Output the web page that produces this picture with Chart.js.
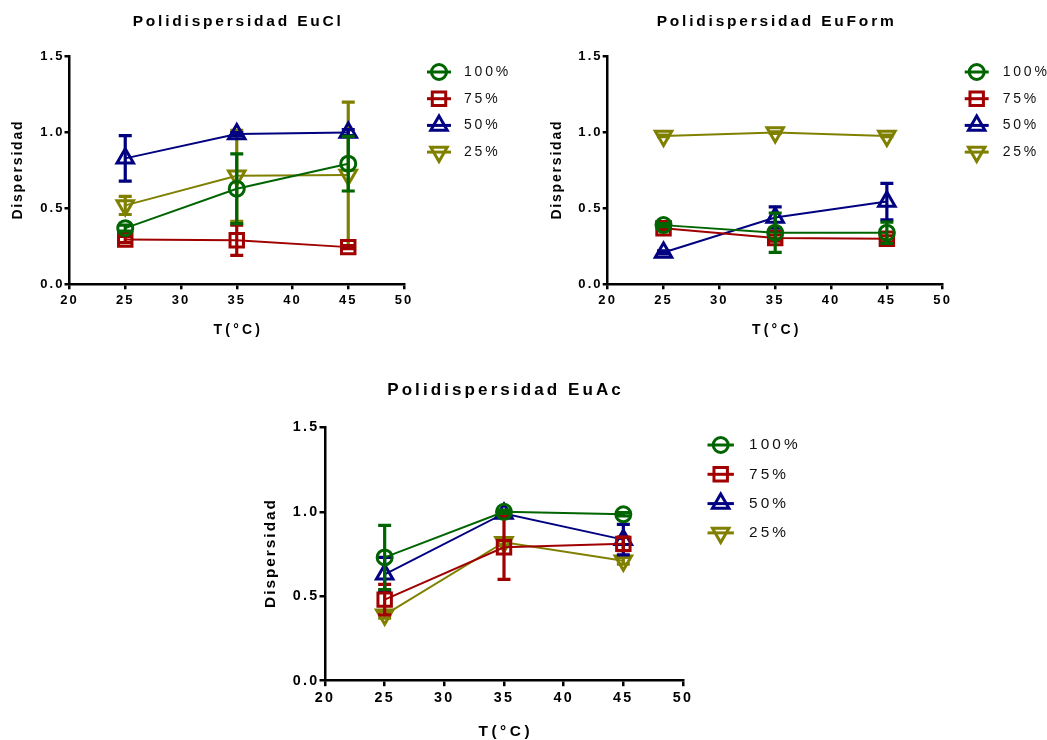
<!DOCTYPE html>
<html lang="es">
<head>
<meta charset="UTF-8">
<title>Polidispersidad</title>
<script src="https://cdn.jsdelivr.net/npm/chart.js@4.4.1/dist/chart.umd.min.js"></script>
<style>
  body { margin: 0; background: #fff; }
  #page { position: relative; width: 1047px; height: 740px; overflow: hidden; background: #fff; }
  #page canvas { position: absolute; }
</style>
</head>
<body>
<div id="page">
  <canvas id="chartEuCl" width="530" height="345" style="left:0;top:0"></canvas>
  <canvas id="chartEuForm" width="517" height="345" style="left:530px;top:0"></canvas>
  <canvas id="chartEuAc" width="580" height="370" style="left:240px;top:370px"></canvas>
</div>

<script>
// temperatures (°C) and series
const temps = [25, 35, 45];
const seriesLabels = ['100%', '75%', '50%', '25%'];
const xTickValues = [20, 25, 30, 35, 40, 45, 50];
const yTickValues = [0, 0.5, 1.0, 1.5];

// EuCl: mean and SD per series (rows follow seriesLabels)
const euClMeans = [
  [0.37, 0.63, 0.795],
  [0.295, 0.29, 0.245],
  [0.83, 0.99, 1.0],
  [0.52, 0.715, 0.72]
];
const euClSd = [
  [0.02, 0.23, 0.18],
  [0.02, 0.10, 0.01],
  [0.15, 0.01, 0.02],
  [0.06, 0.30, 0.48]
];

// EuForm
const euFormMeans = [
  [0.39, 0.34, 0.34],
  [0.37, 0.305, 0.30],
  [0.21, 0.44, 0.545],
  [0.978, 1.0, 0.978]
];
const euFormSd = [
  [0.01, 0.13, 0.07],
  [0.01, 0.02, 0.02],
  [0.01, 0.07, 0.12],
  [0.005, 0.005, 0.005]
];

// EuAc
const euAcMeans = [
  [0.73, 1.0, 0.985],
  [0.48, 0.79, 0.81],
  [0.63, 0.99, 0.835],
  [0.39, 0.82, 0.71]
];
const euAcSd = [
  [0.19, 0.01, 0.01],
  [0.09, 0.19, 0.04],
  [0.10, 0.01, 0.09],
  [0.02, 0.02, 0.02]
];

// look of each series
const seriesColors = ['#006400', '#a00000', '#000080', '#808000'];
const seriesMarkers = [
  { pointStyle: 'circle', radius: 7.5, rotation: 0 },
  { pointStyle: 'rect', radius: 9.5, rotation: 0 },
  { pointStyle: 'triangle', radius: 9.5, rotation: 0 },
  { pointStyle: 'triangle', radius: 9.5, rotation: 180 }
];

const FONT = "'Liberation Sans', Arial, sans-serif";

// draws text with letter spacing, centered on the visible glyphs when asked
function spacedText(ctx, text, x, y, spacing, align) {
  ctx.letterSpacing = spacing + 'px';
  ctx.textAlign = 'left';
  const w = ctx.measureText(text).width - spacing;
  ctx.fillText(text, align === 'center' ? x - w / 2 : x, y);
}

// SD bars, drawn just under each dataset's own line and markers
const errorBars = {
  id: 'errorBars',
  beforeDatasetDraw(chart, args) {
    const ds = chart.data.datasets[args.index];
    if (!ds.sd) return;
    const ctx = chart.ctx;
    const xs = chart.scales.x, ys = chart.scales.y;
    const cap = 6.5;
    ctx.save();
    ctx.strokeStyle = ds.borderColor;
    ctx.lineWidth = 3.2;
    ds.data.forEach((p, j) => {
      const e = ds.sd[j];
      const px = xs.getPixelForValue(p.x);
      const top = ys.getPixelForValue(p.y + e);
      const bot = ys.getPixelForValue(p.y - e);
      ctx.beginPath();
      ctx.moveTo(px, top); ctx.lineTo(px, bot);
      ctx.moveTo(px - cap, top); ctx.lineTo(px + cap, top);
      ctx.moveTo(px - cap, bot); ctx.lineTo(px + cap, bot);
      ctx.stroke();
    });
    ctx.restore();
  }
};

// panel title, axis titles and the legend at the right of the plot
const panelText = {
  id: 'panelText',
  beforeDraw(chart, args, opts) {
    chart.ctx.letterSpacing = opts.tickSpacing + 'px';
  },
  afterDraw(chart, args, opts) {
    const ctx = chart.ctx;
    const area = chart.chartArea;
    const s = opts.scale;
    const cx = (area.left + area.right) / 2;
    ctx.save();
    ctx.fillStyle = '#000';
    ctx.textBaseline = 'middle';

    ctx.font = `bold ${15.5 * s}px ${FONT}`;
    spacedText(ctx, opts.title, cx, opts.titleY, 2.8 * s, 'center');

    ctx.font = `bold ${14 * s}px ${FONT}`;
    spacedText(ctx, 'T(°C)', cx, opts.xTitleY, 3.2 * s, 'center');

    ctx.save();
    ctx.translate(opts.yTitleX, (area.top + area.bottom) / 2);
    ctx.rotate(-Math.PI / 2);
    spacedText(ctx, 'Dispersidad', 0, 0, 1.8 * s, 'center');
    ctx.restore();

    // legend
    const mx = area.right + opts.legendMarker;
    const tx = area.right + opts.legendText;
    chart.data.datasets.forEach((ds, i) => {
      const y = area.top + opts.legendTop + i * opts.legendStep;
      ctx.strokeStyle = ds.borderColor;
      ctx.fillStyle = 'rgba(0,0,0,0)';
      ctx.lineWidth = 3;
      ctx.beginPath();
      ctx.moveTo(mx - 12 * s, y); ctx.lineTo(mx + 12 * s, y);
      ctx.stroke();
      Chart.helpers.drawPoint(ctx, {
        pointStyle: seriesMarkers[i].pointStyle,
        rotation: seriesMarkers[i].rotation,
        radius: seriesMarkers[i].radius,
        borderWidth: 3
      }, mx, y);
      ctx.fillStyle = '#111';
      ctx.font = `${14 * s}px ${FONT}`;
      spacedText(ctx, ds.label, tx, y, 2.8 * s, 'left');
    });
    ctx.restore();
  }
};

function makePanel(id, means, sds, g) {
  const s = g.scale;
  const tickFont = { family: FONT, size: 13 * s, weight: 'bold' };
  const datasets = seriesLabels.map((label, i) => ({
    label: label,
    data: temps.map((t, j) => ({ x: t, y: means[i][j] })),
    sd: sds[i],
    showLine: true,
    borderColor: seriesColors[i],
    backgroundColor: 'rgba(0,0,0,0)',
    borderWidth: 2,
    pointStyle: seriesMarkers[i].pointStyle,
    pointRadius: seriesMarkers[i].radius,
    pointRotation: seriesMarkers[i].rotation,
    pointBorderWidth: 3,
    pointBackgroundColor: 'rgba(0,0,0,0)',
    pointBorderColor: seriesColors[i],
    clip: false
  }));

  return new Chart(document.getElementById(id), {
    type: 'scatter',
    data: { datasets },
    options: {
      responsive: false,
      animation: false,
      events: [],
      layout: { padding: { left: 0, top: g.top, right: g.right, bottom: 0 } },
      plugins: {
        legend: { display: false },
        tooltip: { enabled: false },
        panelText: {
          title: g.title, scale: s, tickSpacing: 2.1 * s,
          titleY: g.titleY, xTitleY: g.xTitleY, yTitleX: g.yTitleX,
          legendMarker: g.legendMarker, legendText: g.legendText,
          legendTop: g.legendTop, legendStep: g.legendStep
        }
      },
      scales: {
        x: {
          type: 'linear', min: 20, max: 50,
          afterBuildTicks: sc => { sc.ticks = xTickValues.map(v => ({ value: v })); },
          afterFit: sc => { sc.height = g.xAxisHeight; },
          grid: { drawOnChartArea: false, drawTicks: true, tickLength: 5 * s, color: '#000', lineWidth: 2.5 },
          border: { display: true, color: '#000', width: 2.5 },
          ticks: { color: '#000', font: tickFont, padding: 3 * s, maxRotation: 0, autoSkip: false,
                   callback: v => String(v) }
        },
        y: {
          type: 'linear', min: 0, max: 1.5,
          afterBuildTicks: sc => { sc.ticks = yTickValues.map(v => ({ value: v })); },
          afterFit: sc => { sc.width = g.yAxisWidth; },
          grid: { drawOnChartArea: false, drawTicks: true, tickLength: 5 * s, color: '#000', lineWidth: 2.5 },
          border: { display: true, color: '#000', width: 2.5 },
          ticks: { color: '#000', font: tickFont, padding: 0, autoSkip: false,
                   callback: v => v.toFixed(1) }
        }
      }
    },
    plugins: [errorBars, panelText]
  });
}

makePanel('chartEuCl', euClMeans, euClSd, {
  title: 'Polidispersidad EuCl', scale: 1,
  top: 56.7, right: 126, yAxisWidth: 69.5, xAxisHeight: 60.7,
  titleY: 22, xTitleY: 330, yTitleX: 18,
  legendMarker: 35, legendText: 60, legendTop: 15.3, legendStep: 26.7
});

makePanel('chartEuForm', euFormMeans, euFormSd, {
  title: 'Polidispersidad EuForm', scale: 1,
  top: 56.7, right: 104.3, yAxisWidth: 77.7, xAxisHeight: 60.7,
  titleY: 22, xTitleY: 330, yTitleX: 27,
  legendMarker: 34, legendText: 60, legendTop: 15.3, legendStep: 26.7
});

makePanel('chartEuAc', euAcMeans, euAcSd, {
  title: 'Polidispersidad EuAc', scale: 1.1,
  top: 57.3, right: 137, yAxisWidth: 85, xAxisHeight: 59.3,
  titleY: 20, xTitleY: 362, yTitleX: 30.5,
  legendMarker: 37.7, legendText: 66, legendTop: 17.7, legendStep: 29.3
});
</script>
</body>
</html>
